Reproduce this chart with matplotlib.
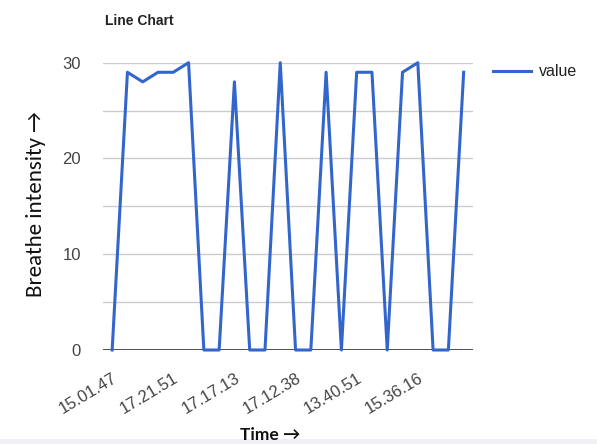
import matplotlib
matplotlib.use("Agg")
import matplotlib.pyplot as plt
from matplotlib.patches import Rectangle

times = ["15.01.47", "", "", "", "17.21.51", "", "", "", "17.17.13", "", "", "",
         "17.12.38", "", "", "", "13.40.51", "", "", "", "15.36.16", "", "", ""]
values = [0, 29, 28, 29, 29, 30, 0, 0, 28, 0, 0, 30,
          0, 0, 29, 0, 29, 29, 0, 29, 30, 0, 0, 29]
y_ticks = [0, 10, 20, 30]

plt.rcParams['font.family'] = ['Liberation Sans', 'DejaVu Sans']

fig = plt.figure(figsize=(5.97, 4.44), dpi=100)
ax = fig.add_axes([0.1725, 0.2117, 0.6195, 0.6471])

x = list(range(len(values)))
ax.plot(x, values, color="#3366cc", lw=2.2, clip_on=False, label="value", zorder=3)

ax.set_xlim(-0.6, len(values) - 0.4)
ax.set_ylim(0, 30)
for g in range(0, 31, 5):
    ax.axhline(g, color="#cccccc", lw=1, zorder=1)
ax.axhline(0, color="#333333", lw=1.2, zorder=2)

for s in ax.spines.values():
    s.set_visible(False)
ax.set_yticks(y_ticks)
ax.set_yticklabels([str(v) for v in y_ticks], fontsize=12, color="#444444")
ax.tick_params(axis="y", length=0, pad=16)
ax.set_xticks(x)
ax.set_xticklabels(times, rotation=31, ha="right", rotation_mode="anchor",
                   fontsize=12, color="#444444")
ax.tick_params(axis="x", length=0, pad=15)

fig.text(0.176, 0.944, "Line Chart", fontsize=10, fontweight="bold", color="#222222")
fig.text(0.452, 0.01, "Time \u2192", fontsize=12.5, fontweight="bold", color="#111111",
         ha="center", family=["Lato", "DejaVu Sans"])
fig.text(0.06, 0.54, "Breathe intensity \u2192", fontsize=16.5, rotation=90,
         color="#111111", ha="center", va="center", fontweight="medium",
         family=["Carlito", "Lato", "DejaVu Sans"])

# light footer band
fig.patches.append(Rectangle((0, 0), 1, 0.012, transform=fig.transFigure,
                             facecolor="#eef0f3", edgecolor="none", zorder=0))

leg = ax.legend(loc="upper left", bbox_to_anchor=(1.015, 1.045), frameon=False,
                fontsize=11.5, handlelength=2.4, handletextpad=0.5)
for t in leg.get_texts():
    t.set_color("#222222")

fig.savefig("out.png", dpi=100)
